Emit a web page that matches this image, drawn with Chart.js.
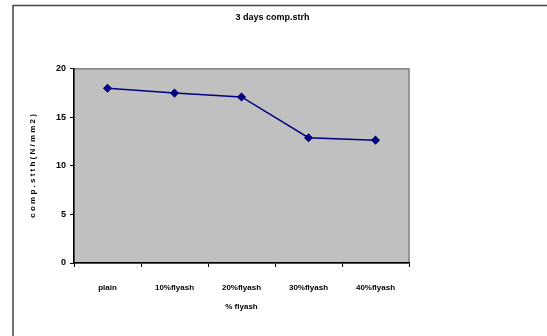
<!DOCTYPE html>
<html>
<head>
<meta charset="utf-8">
<script src="https://cdn.jsdelivr.net/npm/chart.js@4/dist/chart.umd.min.js"></script>
<style>
  html, body { margin: 0; padding: 0; background: #fff; }
  #wrap { width: 547px; height: 336px; }
</style>
</head>
<body>
<div id="wrap"><canvas id="myChart" width="547" height="336"></canvas></div>
<script>
// chart data
const categories = ["plain", "10%flyash", "20%flyash", "30%flyash", "40%flyash"];
const strength = [18.0, 17.5, 17.1, 12.9, 12.65];
const yTicks = [0, 5, 10, 15, 20];

const chartTitle = "3 days comp.strh";
const xTitle = "% flyash";
const yTitle = "c o m p . s t t h ( N / m m 2 )";

const fontFamily = "'Liberation Sans', Arial, sans-serif";

// grey plot box + outer frame, like the old excel chart
const plotBox = {
  id: "plotBox",
  beforeDraw(chart) {
    const ctx = chart.ctx;
    const a = chart.chartArea;
    ctx.save();
    ctx.fillStyle = "#fff";
    ctx.fillRect(0, 0, chart.width, chart.height);
    // outer frame (right and bottom run off the picture)
    ctx.strokeStyle = "#444";
    ctx.lineWidth = 1.5;
    ctx.strokeRect(13, 5.5, 600, 400);
    ctx.fillStyle = "#c0c0c0";
    ctx.fillRect(a.left, a.top, a.right - a.left, a.bottom - a.top);
    ctx.strokeStyle = "#808080";
    ctx.lineWidth = 1.5;
    ctx.strokeRect(a.left, a.top, a.right - a.left, a.bottom - a.top);
    ctx.restore();
  }
};

const ctx = document.getElementById("myChart");

new Chart(ctx, {
  type: "line",
  data: {
    labels: categories,
    datasets: [
      {
        label: "3 days",
        data: strength,
        borderColor: "#000080",
        backgroundColor: "#000080",
        borderWidth: 1.5,
        pointStyle: "rectRot",
        pointRadius: 3.5,
        tension: 0,
      },
    ],
  },
  options: {
    responsive: false,
    animation: false,
    layout: { padding: { left: 14, right: 16, top: 0, bottom: 24 } },
    plugins: {
      legend: { display: false },
      tooltip: { enabled: false },
      title: {
        display: true,
        text: chartTitle,
        color: "#000",
        font: { family: fontFamily, size: 9, weight: "bold" },
        padding: { top: 12, bottom: 46 },
        align: "center",
        fullSize: true,
      },
    },
    scales: {
      x: {
        offset: true,
        grid: {
          offset: true,
          drawOnChartArea: false,
          color: "#000",
          tickLength: 4,
        },
        border: { color: "#000", width: 1.5 },
        ticks: {
          color: "#000",
          padding: 16,
          maxRotation: 0,
          font: { family: fontFamily, size: 8, weight: "bold" },
        },
        title: {
          display: true,
          text: xTitle,
          color: "#000",
          padding: { top: 4, bottom: 0 },
          font: { family: fontFamily, size: 8, weight: "bold" },
        },
        afterFit(scale) {
          scale.height = 49;
        },
      },
      y: {
        min: 0,
        max: 20,
        afterBuildTicks(scale) {
          scale.ticks = yTicks.map((v) => ({ value: v }));
        },
        grid: {
          drawOnChartArea: false,
          color: "#000",
          tickLength: 4,
        },
        border: { color: "#000", width: 1.5 },
        ticks: {
          color: "#000",
          padding: 4,
          font: { family: fontFamily, size: 9, weight: "bold" },
        },
        title: {
          display: true,
          text: yTitle,
          color: "#000",
          padding: { top: 14, bottom: 10 },
          font: { family: fontFamily, size: 8, weight: "bold" },
        },
        afterFit(scale) {
          scale.width = 60;
        },
      },
      // empty right box to keep the white space right of the plot
      yRight: {
        position: "right",
        display: true,
        min: 0,
        max: 20,
        grid: { display: false },
        border: { display: false },
        ticks: { display: false },
        afterFit(scale) {
          scale.width = 122;
        },
      },
    },
  },
  plugins: [plotBox],
});
</script>
</body>
</html>
